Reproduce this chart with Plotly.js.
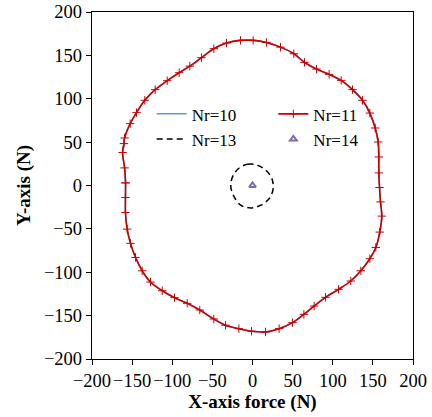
<!DOCTYPE html>
<html>
<head>
<meta charset="utf-8">
<script src="https://cdn.plot.ly/plotly-3.0.1.min.js"></script>
<style>body{margin:0;padding:0;background:#fff}#chart{width:432px;height:417px}</style>
</head>
<body>
<div id="chart"></div>
<script>
// Nr=11 (and Nr=10, hidden beneath) contour
const nr11X = [-158.2,-159.4,-161.9,-160.2,-159.4,-152.4,-144.5,-134.2,-121.3,-106.3,-91.4,-78.1,-63.6,-48.2,-32.4,-15,0.8,17.4,34.9,51.5,64.8,79.8,95.5,110.5,124.6,137.1,146.2,152.9,156.6,157.4,157.4,158.3,159.5,161.1,158.6,153.7,146.2,135,122.5,107.2,91,76.8,64,49.8,33.2,16.2,-1.2,-17,-33.6,-48.2,-65.7,-81.4,-97.2,-112.5,-127.1,-137.5,-145.8,-152,-156.2,-158.3,-158.3,-158.2];
const nr11Y = [3,20.3,38,48.3,54.8,71.3,84,98.2,110.5,120.8,130,137.6,147.3,157.7,164.2,167.3,167.3,164.9,159.5,151.9,141.9,134.2,128.1,121.2,110.5,98.2,83.5,66.3,50.2,32.9,14.5,-2.3,-18.9,-35.3,-53.7,-71.4,-84.4,-98.3,-110.1,-119.7,-128.9,-138.9,-148.5,-158.1,-165,-168.8,-168,-165,-161.1,-153.9,-143.5,-135.8,-129.3,-121.3,-111.3,-98.3,-82.9,-66.7,-50.3,-31.1,-13.8,3];
const nr10X = nr11X;
const nr10Y = nr11Y;
// Nr=13 small contour
const nr13X = [-17.4,-6.2,6.2,16.6,24.1,25.8,20.8,10.4,-2.1,-14.6,-22.8,-27,-24.9,-17.4];
const nr13Y = [19.6,24.5,23.4,17.6,8.1,-3.5,-15,-22.7,-25.8,-22.7,-13.1,-1.6,9.9,19.6];
// Nr=14 point
const nr14X = [0];
const nr14Y = [0];

const serif = "Liberation Serif, Times New Roman, serif";

const traces = [
  {x: nr10X, y: nr10Y, name: "Nr=10", mode: "lines", line: {color: "#5B9BD5", width: 1.5, shape: "spline"}, legend: "legend"},
  {x: nr11X, y: nr11Y, name: "Nr=11", mode: "lines+markers", line: {color: "#CC0000", width: 1.6, shape: "spline"},
   marker: {symbol: "cross-thin", size: 6, line: {color: "#CC0000", width: 1}}, legend: "legend2"},
  {x: nr13X, y: nr13Y, name: "Nr=13", mode: "lines", line: {color: "#000000", width: 1.5, dash: "6px,4px", shape: "spline"}, legend: "legend"},
  {x: nr14X, y: nr14Y, name: "Nr=14", mode: "markers", marker: {symbol: "triangle-up-open", size: 6, color: "#7F6BB0", line: {color: "#7F6BB0", width: 2}}, legend: "legend2"}
];

const axisCommon = {
  range: [-200, 200], dtick: 50, showgrid: false, zeroline: false,
  showline: true, linecolor: "#000", linewidth: 1.2, mirror: true,
  ticks: "outside", ticklen: 5, tickcolor: "#000", tickangle: 0,
  tickfont: {family: serif, size: 18.5, color: "#000"}
};

const layout = {
  width: 432, height: 417,
  margin: {l: 92, r: 19, t: 12, b: 58},
  paper_bgcolor: "#fff", plot_bgcolor: "#fff",
  showlegend: true,
  xaxis: Object.assign({}, axisCommon, {title: {text: "<b>X-axis force (N)</b>", font: {family: serif, size: 19, color: "#000"}, standoff: 4}}),
  yaxis: Object.assign({}, axisCommon, {title: {text: "<b>Y-axis (N)</b>", font: {family: serif, size: 19, color: "#000"}, standoff: 8}}),
  legend: {x: 0.186, y: 0.757, xanchor: "left", yanchor: "top", bgcolor: "rgba(0,0,0,0)", font: {family: serif, size: 17, color: "#000"}, tracegroupgap: 0},
  legend2: {x: 0.565, y: 0.757, xanchor: "left", yanchor: "top", bgcolor: "rgba(0,0,0,0)", font: {family: serif, size: 17, color: "#000"}, tracegroupgap: 0}
};

Plotly.newPlot("chart", traces, layout, {displayModeBar: false, staticPlot: true});
</script>
</body>
</html>
